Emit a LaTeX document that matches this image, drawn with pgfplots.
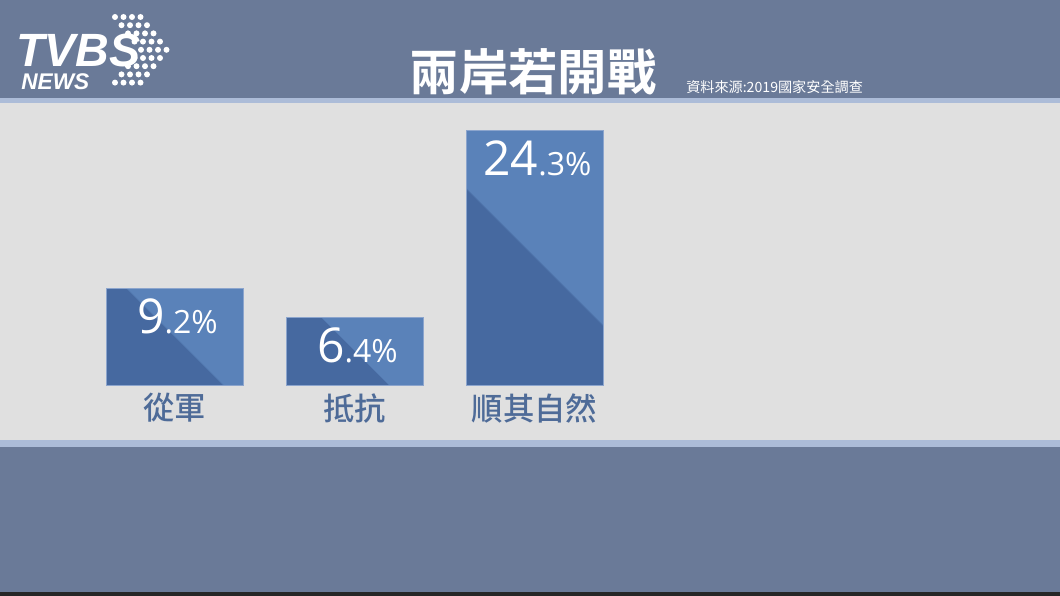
\documentclass[border=0pt]{standalone}
\usepackage{fontspec}
\usepackage{pgfplots}
\pgfplotsset{compat=1.18}
\setmainfont{Open Sans}
\newfontfamily\cjk{Noto Sans CJK TC}
\newfontfamily\cjkm{Noto Sans CJK TC Medium}
\newfontfamily\cjkb{Noto Sans CJK TC Bold}
\newfontfamily\logofont{Liberation Sans}

\definecolor{band}{RGB}{106,122,152}
\definecolor{bandedge}{RGB}{172,188,216}
\definecolor{panel}{RGB}{224,224,224}
\definecolor{bardark}{RGB}{70,105,160}
\definecolor{barlight}{RGB}{90,130,185}
\definecolor{baredge}{RGB}{140,165,205}
\definecolor{lbl}{RGB}{78,107,152}

\pgfdeclarehorizontalshading{barsplit}{100bp}{color(0bp)=(bardark); color(50bp)=(bardark); color(50.3bp)=(barlight); color(100bp)=(barlight)}

% value label: big integer part, small decimals
\def\splitval#1.#2\relax{{\fontsize{36}{36}\selectfont #1}{\fontsize{24}{24}\selectfont.#2\%}}

\pgfplotsset{tvbsbar/.style={ybar, bar width=102.75pt, bar shift=0pt,
  shading=barsplit, shading angle=45, draw=baredge, line width=0.6pt,
  point meta=explicit symbolic,
  nodes near coords={\expandafter\splitval\pgfplotspointmeta\relax},
  every node near coord/.append style={anchor=north, text=white, inner sep=0pt, yshift=-7.5pt, xshift=2.25pt}}}

\begin{document}
\begin{tikzpicture}[x=0.75pt,y=0.75pt]
% background bands (pixel units, y upward)
\fill[band] (0,0) rectangle (1060,596);
\fill[black!85] (0,0) rectangle (1060,4);
\fill[bandedge] (0,149) rectangle (1060,156);
\fill[bandedge] (0,493) rectangle (1060,498);
\fill[panel] (0,156) rectangle (1060,493);

% logo
\foreach \r in {0,...,8}{
  \pgfmathsetmacro\off{(4-abs(\r-4))*6.5}
  \foreach \c in {0,...,3}{
    \fill[white] ({115+\off+\c*8.5},{596-17-\r*8.2}) circle (3);
  }
}
\node[anchor=base west, inner sep=0, text=white] at (16,529) {\logofont\fontsize{35}{35}\selectfont\bfseries\itshape TVBS};
\node[anchor=base west, inner sep=0, text=white] at (21,506) {\logofont\fontsize{17}{17}\selectfont\bfseries\itshape NEWS};

% titles
\node[text=white, inner sep=0] at (533,524) {\cjkb\fontsize{37}{37}\selectfont 兩岸若開戰};
\node[text=white, inner sep=0, anchor=west] at (686,509) {\cjk\fontsize{10.6}{10.6}\selectfont 資料來源:2019國家安全調查};

\begin{axis}[
  at={(63.375pt,158.25pt)}, anchor=south west,
  scale only axis, width=405pt, height=236.1pt,
  xmin=-0.5, xmax=2.5, ymin=0, ymax=30,
  axis line style={draw=none},
  major tick length=0pt,
  ytick=\empty,
  xtick={0,1,2},
  xticklabels={從軍,抵抗,順其自然},
  xticklabel style={font=\cjkm\fontsize{23.5}{23.5}\selectfont, text=lbl, inner sep=0pt, yshift=-6pt},
  clip=false,
]
\addplot[tvbsbar] coordinates {(0,9.2) [9.2]};
\addplot[tvbsbar] coordinates {(1,6.4) [6.4]};
\addplot[tvbsbar] coordinates {(2,24.3) [24.3]};
\end{axis}
\end{tikzpicture}
\end{document}
